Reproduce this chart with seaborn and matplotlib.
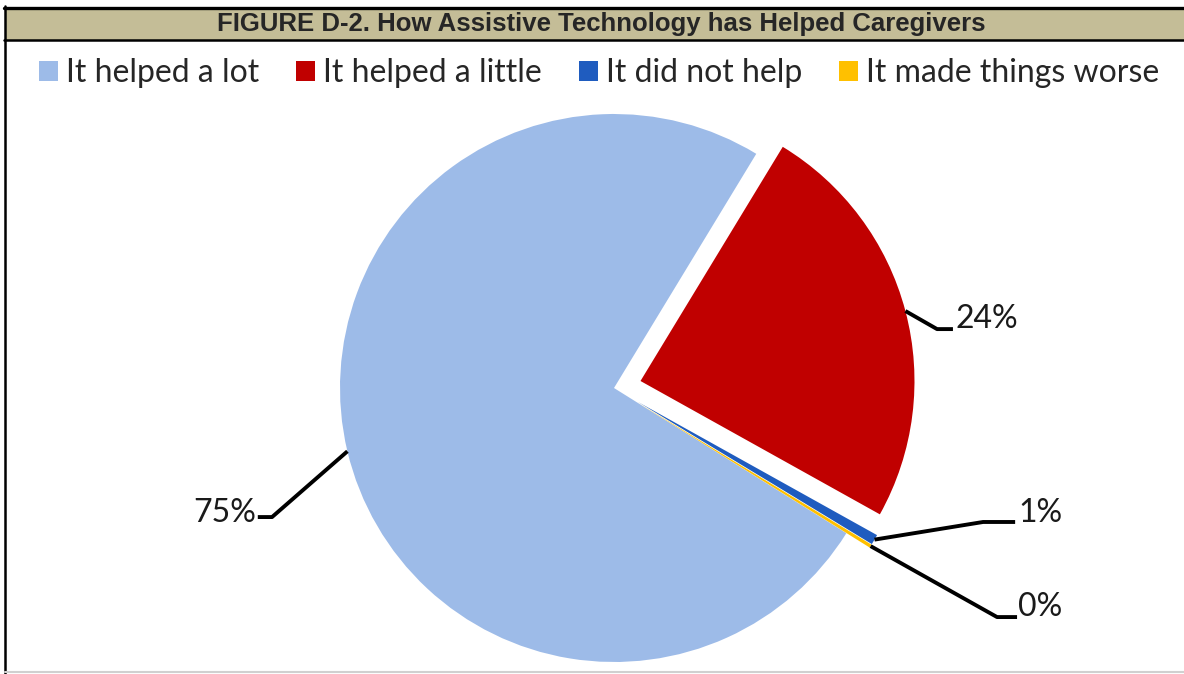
import matplotlib
matplotlib.use("Agg")
import matplotlib.pyplot as plt
from matplotlib.patches import Rectangle
from matplotlib.lines import Line2D
import numpy as np
import seaborn as sns

# data
categories = ["It helped a lot", "It helped a little", "It did not help", "It made things worse"]
shares = [74.8, 24.4, 0.6, 0.2]
colors = ["#9DBBE8", "#C00000", "#1F5CBF", "#FFC000"]
title = "FIGURE D-2. How Assistive Technology has Helped Caregivers"

sns.set_style("white")
plt.rcParams["font.family"] = ["Lato", "DejaVu Sans"]

W, H = 1184, 674
fig = plt.figure(figsize=(W / 100, H / 100), dpi=100)

# pie axes: 1 data unit = 274 px, pie centre at (614, 388) px
S, cx, cy = 274.0, 614.0, 388.0
ax = fig.add_axes([0, 0, 1, 1])
wedges, _ = ax.pie(shares, colors=colors, startangle=-32, counterclock=False,
                   explode=[0, 0.1, 0.1, 0.1], radius=1.0,
                   wedgeprops=dict(linewidth=0))
ax.set_xlim(-cx / S, (W - cx) / S)
ax.set_ylim(-(H - cy) / S, cy / S)
ax.set_aspect("auto")
ax.axis("off")

# label layout: (elbow, line end, text anchor, ha) in data units
layout = [
    ((-1.248, -0.471), (-1.300, -0.471), (-1.305, -0.455), "right"),
    ((1.179, 0.215), (1.237, 0.215), (1.245, 0.250), "left"),
    ((1.347, -0.489), (1.464, -0.489), (1.475, -0.455), "left"),
    ((1.398, -0.836), (1.471, -0.836), (1.475, -0.800), "left"),
]
for w, v, (elbow, end, txt, ha) in zip(wedges, shares, layout):
    mid = np.deg2rad((w.theta1 + w.theta2) / 2)
    x0 = w.center[0] + w.r * np.cos(mid)
    y0 = w.center[1] + w.r * np.sin(mid)
    ax.plot([x0, elbow[0], end[0]], [y0, elbow[1], end[1]], color="black",
            lw=2.8, solid_capstyle="butt")
    ax.text(txt[0], txt[1], f"{round(v)}%", ha=ha, va="center",
            fontsize=23, color="#1a1a1a")

# title bar and frame
def py(p):
    return 1 - p / H

fig.patches.append(Rectangle((5 / W, py(40)), 1 - 5 / W, (40 - 8) / H,
                             transform=fig.transFigure, facecolor="#C4BD97",
                             edgecolor="none", zorder=0))
fig.lines.append(Line2D([4 / W, 1], [py(7.5), py(7.5)], transform=fig.transFigure,
                        color="black", lw=2.4))
fig.lines.append(Line2D([4 / W, 1], [py(40), py(40)], transform=fig.transFigure,
                        color="black", lw=1.8))
fig.lines.append(Line2D([5 / W, 5 / W], [py(6), 0], transform=fig.transFigure,
                        color="black", lw=1.8))
fig.lines.append(Line2D([5 / W, 1], [py(672), py(672)], transform=fig.transFigure,
                        color="#D0D0D0", lw=1.5))
fig.text(601 / W, py(24.5), title, ha="center", va="center", fontsize=18.5,
         fontweight="bold", family=["Liberation Sans", "DejaVu Sans"])

# legend
fig.legend(wedges, categories, loc="center", bbox_to_anchor=(599 / W, py(73)),
           ncol=4, frameon=False, fontsize=23, handlelength=0.6,
           handleheight=0.6, handletextpad=0.25, columnspacing=1.15,
           borderaxespad=0)

fig.savefig("out.png", dpi=100, facecolor="white")
